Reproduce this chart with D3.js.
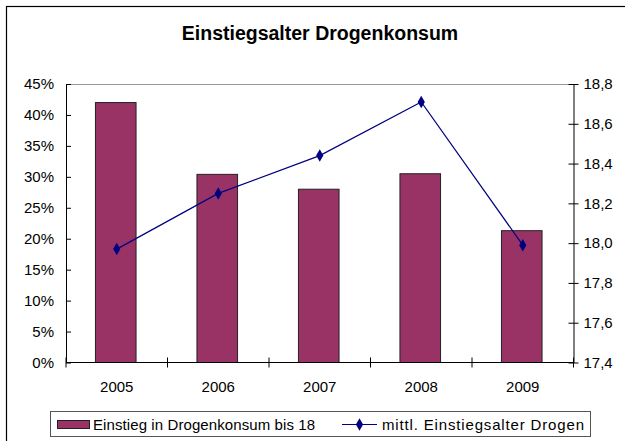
<!DOCTYPE html>
<html>
<head>
<meta charset="utf-8">
<script src="https://cdn.jsdelivr.net/npm/d3@7"></script>
<style>
  body { margin: 0; background: #fff; }
  svg text { font-family: "Liberation Sans", Arial, sans-serif; fill: #000; }
</style>
</head>
<body>
<div id="chart"></div>
<script>
// data
var years  = ["2005", "2006", "2007", "2008", "2009"];
var shares = [0.42, 0.304, 0.28, 0.305, 0.213];       // Einstieg in Drogenkonsum bis 18
var ages   = [17.97, 18.25, 18.44, 18.71, 17.99];     // mittl. Einstiegsalter Drogen
var leftTicks  = [0, 0.05, 0.10, 0.15, 0.20, 0.25, 0.30, 0.35, 0.40, 0.45];
var rightTicks = [17.4, 17.6, 17.8, 18.0, 18.2, 18.4, 18.6, 18.8];

var width  = 625;
var height = 441;
var plot = { left: 66, right: 573.5, top: 84, bottom: 362.5 };

var de = d3.formatLocale({ decimal: ",", thousands: ".", grouping: [3], currency: ["", " €"] });

var svg = d3.select("#chart")
    .append("svg")
    .attr("width", width)
    .attr("height", height);

// chart frame (cropped on the right and bottom)
svg.append("rect")
    .attr("x", 6.5).attr("y", 6.5)
    .attr("width", 700).attr("height", 500)
    .attr("fill", "none")
    .attr("stroke", "#000")
    .attr("stroke-width", 1.2);

svg.append("text")
    .attr("x", 320).attr("y", 40)
    .attr("text-anchor", "middle")
    .style("font-size", "19.5px")
    .style("font-weight", "bold")
    .text("Einstiegsalter Drogenkonsum");

var x = d3.scaleBand()
    .domain(years)
    .range([plot.left, plot.right])
    .padding(0);

var yLeft = d3.scaleLinear()
    .domain([0, 0.45])
    .range([plot.bottom, plot.top]);

var yRight = d3.scaleLinear()
    .domain([17.4, 18.8])
    .range([plot.bottom, plot.top]);

// top line of plot area
svg.append("line")
    .attr("x1", plot.left).attr("x2", plot.right)
    .attr("y1", plot.top + 0.5).attr("y2", plot.top + 0.5)
    .attr("stroke", "#999")
    .attr("stroke-width", 1);

// bars
var barW = x.bandwidth() * 0.4;
svg.selectAll("rect.bar")
    .data(shares)
    .enter()
    .append("rect")
    .attr("class", "bar")
    .attr("x", function(d, i) { return x(years[i]) + (x.bandwidth() - barW) / 2 - 1; })
    .attr("y", function(d) { return yLeft(d); })
    .attr("width", barW)
    .attr("height", function(d) { return plot.bottom - yLeft(d); })
    .attr("fill", "#993366")
    .attr("stroke", "#222")
    .attr("stroke-width", 1);

// axes
function styleAxis(g) {
    g.selectAll("path").attr("stroke", "#000");
    g.selectAll("line").attr("stroke", "#000");
    g.selectAll("text").style("font-size", "15px").attr("fill", "#000");
}

var leftAxis = svg.append("g")
    .attr("transform", "translate(" + plot.left + ",0)")
    .call(d3.axisLeft(yLeft)
        .tickValues(leftTicks)
        .tickFormat(d3.format(".0%"))
        .tickSize(5)
        .tickSizeOuter(0)
        .tickPadding(7));
leftAxis.selectAll(".tick line").attr("x2", 5);
styleAxis(leftAxis);

var rightAxis = svg.append("g")
    .attr("transform", "translate(" + plot.right + ",0)")
    .call(d3.axisRight(yRight)
        .tickValues(rightTicks)
        .tickFormat(de.format(".1f"))
        .tickSize(5)
        .tickSizeOuter(0)
        .tickPadding(5));
rightAxis.selectAll(".tick line").attr("x1", -5);
styleAxis(rightAxis);

// category axis with ticks between the groups
var bottomAxis = svg.append("g")
    .attr("transform", "translate(0," + plot.bottom + ")");
bottomAxis.append("line")
    .attr("x1", plot.left).attr("x2", plot.right)
    .attr("stroke", "#000");
var bounds = years.map(function(d) { return x(d); }).concat([plot.right]);
bottomAxis.selectAll("line.sep")
    .data(bounds)
    .enter()
    .append("line")
    .attr("class", "sep")
    .attr("x1", function(d) { return d; })
    .attr("x2", function(d) { return d; })
    .attr("y1", -5).attr("y2", 5)
    .attr("stroke", "#000");
bottomAxis.selectAll("text")
    .data(years)
    .enter()
    .append("text")
    .attr("x", function(d) { return x(d) + x.bandwidth() / 2; })
    .attr("y", 29)
    .attr("text-anchor", "middle")
    .style("font-size", "15px")
    .text(function(d) { return d; });

// line series on the right axis
var line = d3.line()
    .x(function(d, i) { return x(years[i]) + x.bandwidth() / 2; })
    .y(function(d) { return yRight(d); });

svg.append("path")
    .datum(ages)
    .attr("d", line)
    .attr("fill", "none")
    .attr("stroke", "#000080")
    .attr("stroke-width", 1.2);

var diamond = d3.symbol().type(d3.symbolDiamond).size(45);
svg.selectAll("path.marker")
    .data(ages)
    .enter()
    .append("path")
    .attr("class", "marker")
    .attr("d", diamond)
    .attr("transform", function(d, i) {
        return "translate(" + (x(years[i]) + x.bandwidth() / 2) + "," + yRight(d) + ")";
    })
    .attr("fill", "#000080");

// legend
var legend = svg.append("g");
legend.append("rect")
    .attr("x", 50.5).attr("y", 411.5)
    .attr("width", 540).attr("height", 25)
    .attr("fill", "#fff")
    .attr("stroke", "#555");
legend.append("rect")
    .attr("x", 57.5).attr("y", 420.5)
    .attr("width", 32).attr("height", 8)
    .attr("fill", "#993366")
    .attr("stroke", "#222");
legend.append("text")
    .attr("x", 93).attr("y", 430)
    .attr("textLength", 222)
    .attr("lengthAdjust", "spacing")
    .style("font-size", "15px")
    .text("Einstieg in Drogenkonsum bis 18");
legend.append("line")
    .attr("x1", 342).attr("x2", 377)
    .attr("y1", 424.5).attr("y2", 424.5)
    .attr("stroke", "#000080")
    .attr("stroke-width", 1.2);
legend.append("path")
    .attr("d", diamond)
    .attr("transform", "translate(359.5,424.5)")
    .attr("fill", "#000080");
legend.append("text")
    .attr("x", 382).attr("y", 430)
    .attr("textLength", 202)
    .attr("lengthAdjust", "spacing")
    .style("font-size", "15px")
    .text("mittl. Einstiegsalter Drogen");
</script>
</body>
</html>
